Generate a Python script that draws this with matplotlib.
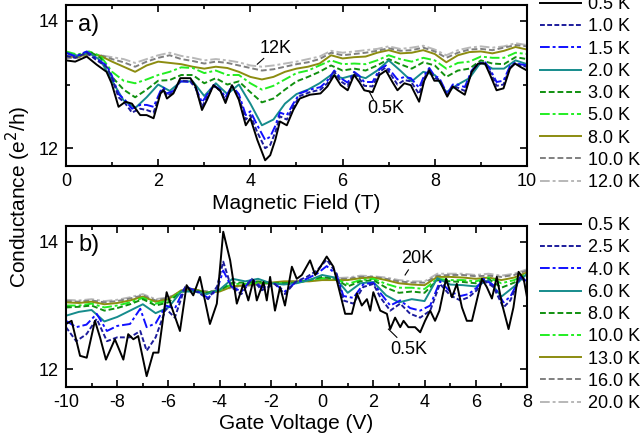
import matplotlib
matplotlib.use('Agg')
import matplotlib.pyplot as plt
from matplotlib.ticker import MultipleLocator

plt.rcParams['font.family'] = ['Liberation Sans', 'DejaVu Sans']
plt.rcParams['axes.unicode_minus'] = False

# ---------------- panel a: conductance vs magnetic field ----------------
labels_a = ['0.5 K', '1.0 K', '1.5 K', '2.0 K', '3.0 K', '5.0 K', '8.0 K', '10.0 K', '12.0 K']

# fine field grid (lowest temperatures)
field_fine = [0.0, 0.2, 0.45, 0.67, 0.88, 0.99, 1.14, 1.29, 1.43, 1.61, 1.75, 1.9, 2.05, 2.12, 2.19,
              2.33, 2.48, 2.7, 2.81, 2.95, 3.06, 3.2, 3.35, 3.46, 3.6, 3.75, 3.9, 4.0, 4.15, 4.32,
              4.43, 4.54, 4.64, 4.79, 4.93, 5.07, 5.29, 5.52, 5.67, 5.82, 5.96, 6.11, 6.25, 6.36,
              6.47, 6.65, 6.8, 6.94, 7.08, 7.19, 7.34, 7.48, 7.66, 7.77, 7.88, 7.99, 8.1, 8.27,
              8.39, 8.5, 8.65, 8.8, 8.94, 9.09, 9.2, 9.34, 9.49, 9.63, 9.74, 9.85, 10.0]
g_a_05 = [13.38, 13.36, 13.44, 13.31, 13.2, 13.02, 12.65, 12.73, 12.7, 12.52, 12.52, 12.47, 12.86, 12.91, 12.78,
          12.86, 13.1, 13.1, 12.97, 12.6, 12.76, 12.99, 12.9, 12.71, 12.99, 12.76, 12.36, 12.47, 12.13, 11.81,
          11.89, 12.13, 12.42, 12.36, 12.6, 12.78, 12.84, 12.86, 12.97, 13.15, 12.99, 12.91, 13.15, 13.04,
          12.91, 12.88, 13.15, 13.22, 13.04, 12.91, 13.02, 12.99, 12.73, 13.06, 13.22, 13.06, 13.06, 12.81,
          12.97, 12.91, 12.84, 13.2, 13.33, 13.33, 13.15, 12.91, 12.94, 13.25, 13.33, 13.28, 13.22]
g_a_10 = [13.45, 13.42, 13.5, 13.38, 13.28, 13.12, 12.8, 12.7, 12.56, 12.62, 12.6, 12.56, 12.88, 12.93, 12.82,
          12.88, 13.06, 13.05, 12.95, 12.65, 12.8, 12.98, 12.9, 12.75, 12.98, 12.8, 12.45, 12.52, 12.25, 12.0,
          12.05, 12.25, 12.5, 12.45, 12.65, 12.82, 12.88, 12.92, 13.02, 13.2, 13.05, 12.98, 13.18, 13.1,
          12.98, 12.97, 13.2, 13.27, 13.12, 13.0, 13.07, 13.05, 12.85, 13.1, 13.24, 13.1, 13.08, 12.83,
          12.98, 12.95, 12.9, 13.2, 13.33, 13.34, 13.2, 12.98, 13.0, 13.27, 13.33, 13.3, 13.28]
g_a_15 = [13.5, 13.44, 13.52, 13.4, 13.3, 13.15, 12.85, 12.75, 12.62, 12.68, 12.68, 12.65, 12.9, 12.95, 12.86,
          12.9, 13.05, 13.04, 12.96, 12.72, 12.84, 12.99, 12.92, 12.8, 12.98, 12.85, 12.52, 12.58, 12.36, 12.13,
          12.18, 12.35, 12.56, 12.52, 12.7, 12.86, 12.92, 12.96, 13.06, 13.22, 13.1, 13.03, 13.2, 13.14,
          13.04, 13.04, 13.24, 13.3, 13.18, 13.08, 13.12, 13.1, 12.95, 13.14, 13.26, 13.14, 13.1, 12.85,
          13.0, 13.0, 12.96, 13.22, 13.33, 13.35, 13.24, 13.04, 13.06, 13.29, 13.34, 13.32, 13.3]

# coarse field grid (0.25 T steps)
field_coarse = [0.0, 0.25, 0.5, 0.75, 1.0, 1.25, 1.5, 1.75, 2.0, 2.25, 2.5, 2.75, 3.0, 3.25, 3.5, 3.75, 4.0,
                4.25, 4.5, 4.75, 5.0, 5.25, 5.5, 5.75, 6.0, 6.25, 6.5, 6.75, 7.0, 7.25, 7.5, 7.75, 8.0,
                8.25, 8.5, 8.75, 9.0, 9.25, 9.5, 9.75, 10.0]
g_a_20 = [13.5, 13.45, 13.5, 13.38, 13.06, 12.75, 12.63, 12.8, 13.0, 12.9, 13.05, 13.05, 12.82, 13.02, 12.85,
          13.0, 12.7, 12.36, 12.45, 12.7, 12.85, 12.92, 13.02, 13.15, 13.1, 13.15, 13.1, 13.22, 13.38,
          13.22, 13.05, 13.2, 13.15, 12.88, 13.0, 13.1, 13.35, 13.25, 13.25, 13.38, 13.32]
g_a_30 = [13.5, 13.45, 13.52, 13.42, 13.12, 12.92, 12.8, 12.92, 13.06, 13.07, 13.15, 13.15, 13.02, 13.1, 13.0,
          13.05, 12.88, 12.72, 12.78, 12.92, 13.05, 13.12, 13.2, 13.3, 13.22, 13.25, 13.22, 13.3, 13.4,
          13.32, 13.25, 13.35, 13.3, 13.12, 13.22, 13.25, 13.38, 13.33, 13.32, 13.43, 13.4]
g_a_50 = [13.52, 13.47, 13.52, 13.45, 13.2, 13.06, 13.02, 13.08, 13.15, 13.2, 13.27, 13.26, 13.18, 13.22, 13.15,
          13.15, 13.02, 12.92, 12.98, 13.08, 13.18, 13.22, 13.3, 13.38, 13.32, 13.33, 13.32, 13.38, 13.46,
          13.4, 13.36, 13.42, 13.38, 13.25, 13.34, 13.36, 13.44, 13.42, 13.42, 13.5, 13.48]
g_a_80 = [13.45, 13.43, 13.49, 13.45, 13.36, 13.28, 13.2, 13.3, 13.36, 13.34, 13.32, 13.28, 13.25, 13.28, 13.26,
          13.2, 13.12, 13.08, 13.12, 13.2, 13.25, 13.28, 13.33, 13.46, 13.41, 13.43, 13.44, 13.5, 13.54,
          13.49, 13.5, 13.54, 13.48, 13.35, 13.46, 13.51, 13.52, 13.49, 13.53, 13.59, 13.55]
g_a_100 = [13.42, 13.42, 13.47, 13.46, 13.4, 13.35, 13.28, 13.36, 13.42, 13.46, 13.4, 13.37, 13.33, 13.36, 13.34,
           13.3, 13.26, 13.22, 13.24, 13.28, 13.32, 13.35, 13.4, 13.5, 13.46, 13.48, 13.5, 13.53, 13.57,
           13.53, 13.54, 13.58, 13.52, 13.42, 13.5, 13.55, 13.56, 13.54, 13.58, 13.62, 13.6]
g_a_120 = [13.42, 13.44, 13.46, 13.46, 13.43, 13.4, 13.34, 13.4, 13.46, 13.5, 13.45, 13.42, 13.38, 13.4, 13.38,
           13.35, 13.3, 13.28, 13.3, 13.33, 13.36, 13.4, 13.44, 13.53, 13.5, 13.52, 13.54, 13.56, 13.6,
           13.56, 13.58, 13.61, 13.55, 13.46, 13.54, 13.58, 13.6, 13.58, 13.6, 13.65, 13.62]

# ---------------- panel b: conductance vs gate voltage ----------------
labels_b = ['0.5 K', '2.5 K', '4.0 K', '6.0 K', '8.0 K', '10.0 K', '13.0 K', '16.0 K', '20.0 K']

gate_k05 = [-10, -9.78, -9.45, -9.19, -8.87, -8.67, -8.44, -8.09, -7.76, -7.57, -7.37, -7.18, -6.85, -6.59,
            -6.39, -6.07, -5.87, -5.55, -5.29, -5.03, -4.77, -4.38, -4.11, -3.86, -3.59, -3.33, -3.07, -2.88,
            -2.68, -2.55, -2.29, -2.16, -2.03, -1.84, -1.64, -1.45, -1.18, -0.99, -0.79, -0.47, -0.27, -0.08,
            0.18, 0.44, 0.64, 0.9, 1.16, 1.36, 1.55, 1.75, 1.88, 2.0, 2.27, 2.53, 2.66, 2.85, 3.05, 3.18,
            3.37, 3.63, 3.83, 4.02, 4.22, 4.41, 4.58, 4.84, 5.07, 5.26, 5.46, 5.65, 5.85, 6.04, 6.24, 6.43,
            6.63, 6.82, 7.02, 7.28, 7.47, 7.67, 7.87, 8.0]
g_b_05 = [12.71, 12.76, 12.21, 12.18, 12.76, 12.5, 12.15, 12.47, 12.15, 12.55, 12.47, 12.52, 11.89, 12.26,
          12.26, 13.21, 12.97, 12.6, 13.32, 13.16, 13.45, 12.71, 13.03, 14.16, 13.71, 13.03, 13.34, 13.08,
          13.4, 13.08, 13.37, 13.08, 13.45, 12.92, 13.29, 13.0, 13.61, 13.42, 13.48, 13.71, 13.48, 13.6,
          13.77, 13.61, 13.29, 12.87, 12.87, 13.19, 13.0, 13.1, 12.92, 13.21, 12.92, 12.87, 12.63, 12.81,
          12.66, 12.76, 12.66, 12.66, 12.58, 12.76, 12.92, 12.76, 12.92, 13.42, 13.13, 13.34, 12.97, 12.76,
          12.76, 13.08, 13.42, 13.29, 13.11, 13.45, 13.03, 12.63, 12.97, 13.53, 13.42, 13.13]

gate_mid = [-10, -9.6, -9.2, -8.8, -8.4, -8.0, -7.5, -7.1, -6.85, -6.5, -6.1, -5.75, -5.35, -4.85, -4.45,
            -4.1, -3.86, -3.55, -3.15, -2.75, -2.35, -1.85, -1.45, -1.05, -0.6, -0.2, 0.18, 0.57, 0.83,
            1.22, 1.6, 2.0, 2.27, 2.66, 3.05, 3.44, 3.83, 4.22, 4.6, 5.0, 5.4, 5.72, 6.04, 6.3, 6.69,
            7.08, 7.35, 7.74, 8.0]
g_b_25 = [12.66, 12.44, 12.55, 12.79, 12.44, 12.5, 12.5, 12.6, 12.29, 12.5, 12.95, 12.81, 13.29, 13.21, 13.1,
          13.3, 13.69, 13.29, 13.18, 13.42, 13.24, 13.34, 13.18, 13.37, 13.45, 13.55, 13.72, 13.5, 13.08,
          13.03, 13.29, 13.34, 13.13, 12.92, 13.03, 12.87, 12.81, 12.92, 13.34, 13.16, 13.08, 13.13, 13.24,
          13.4, 13.29, 12.97, 13.08, 13.45, 13.34]
g_b_40 = [12.76, 12.66, 12.7, 12.87, 12.6, 12.68, 12.71, 12.95, 12.66, 12.72, 13.0, 12.95, 13.3, 13.22, 13.12,
          13.25, 13.55, 13.3, 13.22, 13.42, 13.28, 13.34, 13.22, 13.36, 13.42, 13.5, 13.62, 13.48, 13.15,
          13.12, 13.33, 13.36, 13.2, 13.0, 13.08, 12.96, 12.92, 13.0, 13.38, 13.22, 13.15, 13.18, 13.28,
          13.42, 13.32, 13.05, 13.14, 13.45, 13.38]

gate_coarse = [-10, -9.5, -9, -8.5, -8, -7.5, -7, -6.5, -6, -5.5, -5, -4.5, -4, -3.5, -3, -2.5, -2, -1.5,
               -1, -0.5, 0, 0.5, 1, 1.5, 2, 2.5, 3, 3.5, 4, 4.5, 5, 5.5, 6, 6.5, 7, 7.5, 8]
g_b_60 = [12.84, 12.9, 12.93, 12.75, 12.82, 12.92, 13.02, 12.88, 12.97, 13.22, 13.22, 13.18, 13.25, 13.42,
          13.38, 13.42, 13.35, 13.33, 13.35, 13.4, 13.48, 13.44, 13.2, 13.35, 13.37, 13.16, 13.05, 13.1,
          13.07, 13.43, 13.33, 13.32, 13.3, 13.4, 13.14, 13.3, 13.5]
g_b_80 = [12.97, 12.98, 13.0, 12.92, 12.96, 13.02, 13.1, 13.0, 13.05, 13.22, 13.24, 13.2, 13.24, 13.36,
          13.36, 13.38, 13.35, 13.35, 13.36, 13.4, 13.45, 13.42, 13.3, 13.38, 13.4, 13.28, 13.2, 13.22,
          13.2, 13.4, 13.38, 13.37, 13.35, 13.42, 13.28, 13.36, 13.48]
g_b_100 = [13.0, 13.0, 13.03, 12.97, 13.0, 13.05, 13.12, 13.03, 13.08, 13.22, 13.24, 13.2, 13.24, 13.34,
           13.34, 13.36, 13.35, 13.35, 13.36, 13.4, 13.43, 13.42, 13.34, 13.4, 13.42, 13.34, 13.28, 13.28,
           13.26, 13.42, 13.4, 13.4, 13.38, 13.44, 13.35, 13.4, 13.5]
g_b_130 = [13.05, 13.04, 13.06, 13.02, 13.04, 13.08, 13.14, 13.06, 13.1, 13.24, 13.26, 13.2, 13.22, 13.3,
           13.32, 13.35, 13.36, 13.38, 13.38, 13.38, 13.4, 13.4, 13.4, 13.43, 13.44, 13.4, 13.35, 13.33,
           13.32, 13.45, 13.45, 13.44, 13.42, 13.44, 13.4, 13.44, 13.52]
g_b_160 = [13.07, 13.06, 13.08, 13.05, 13.07, 13.11, 13.16, 13.08, 13.12, 13.22, 13.25, 13.22, 13.24, 13.3,
           13.32, 13.34, 13.35, 13.37, 13.38, 13.39, 13.41, 13.42, 13.42, 13.45, 13.45, 13.42, 13.38, 13.36,
           13.36, 13.47, 13.48, 13.48, 13.46, 13.47, 13.45, 13.48, 13.55]
g_b_200 = [13.09, 13.08, 13.1, 13.07, 13.09, 13.13, 13.18, 13.1, 13.13, 13.22, 13.24, 13.22, 13.24, 13.28,
           13.3, 13.33, 13.35, 13.37, 13.38, 13.39, 13.42, 13.43, 13.44, 13.47, 13.46, 13.44, 13.4, 13.38,
           13.38, 13.5, 13.5, 13.5, 13.48, 13.5, 13.47, 13.5, 13.57]

# line styles shared by both panels (lowest to highest temperature)
colors = ['black', '#1c1c9c', '#1010ff', '#168c8c', '#10900f', '#22ee22', '#8c8c10', '#808080', '#b8b8b8']
styles = ['-', (0, (2.5, 1.2)), (0, (5, 1.5, 1.5, 1.5)), '-', (0, (3, 1.5)), (0, (5, 1.5, 1.5, 1.5)),
          '-', (0, (3, 1.5)), (0, (5, 1.5, 1.5, 1.5))]


def style_axes(ax, xmin, xmax, major, minor):
    ax.set_xlim(xmin, xmax)
    ax.set_ylim(11.72, 14.25)
    ax.xaxis.set_major_locator(MultipleLocator(major))
    ax.xaxis.set_minor_locator(MultipleLocator(minor))
    ax.yaxis.set_major_locator(MultipleLocator(2))
    ax.yaxis.set_minor_locator(MultipleLocator(1))
    ax.tick_params(which='both', direction='in', top=True, right=True, labelsize=13, pad=5)
    ax.tick_params(which='major', length=5, width=1.2)
    ax.tick_params(which='minor', length=3, width=1.2)
    for s in ax.spines.values():
        s.set_linewidth(1.5)


fig = plt.figure(figsize=(6.43, 4.46), dpi=100)
ax_a = fig.add_axes([0.1026, 0.6278, 0.717, 0.361])
ax_b = fig.add_axes([0.1026, 0.1323, 0.717, 0.361])

series_a = [(field_fine, g_a_05), (field_fine, g_a_10), (field_fine, g_a_15),
            (field_coarse, g_a_20), (field_coarse, g_a_30), (field_coarse, g_a_50),
            (field_coarse, g_a_80), (field_coarse, g_a_100), (field_coarse, g_a_120)]
series_b = [(gate_k05, g_b_05), (gate_mid, g_b_25), (gate_mid, g_b_40),
            (gate_coarse, g_b_60), (gate_coarse, g_b_80), (gate_coarse, g_b_100),
            (gate_coarse, g_b_130), (gate_coarse, g_b_160), (gate_coarse, g_b_200)]

for ax, series, labels in [(ax_a, series_a, labels_a), (ax_b, series_b, labels_b)]:
    # draw hottest first so the cold curves sit on top
    for i in reversed(range(len(series))):
        xs, ys = series[i]
        ax.plot(xs, ys, color=colors[i], linestyle=styles[i], lw=1.4, label=labels[i])
    handles, labs = ax.get_legend_handles_labels()
    ax.legend(handles[::-1], labs[::-1], loc='upper left', bbox_to_anchor=(1.028, 1.055),
              frameon=False, fontsize=13, handlelength=2.3, handletextpad=0.35,
              labelspacing=0.29, borderpad=0, borderaxespad=0)

style_axes(ax_a, 0, 10, 2, 1)
style_axes(ax_b, -10, 8, 2, 1)

ax_a.set_xlabel('Magnetic Field (T)', fontsize=15, labelpad=3)
ax_b.set_xlabel('Gate Voltage (V)', fontsize=15, labelpad=2)
fig.text(0.028, 0.56, 'Conductance (e$^2$/h)', rotation=90, fontsize=15, ha='center', va='center')

ax_a.text(0.5, 13.94, 'a)', fontsize=17, ha='center', va='center')
ax_b.text(-9.1, 13.95, 'b)', fontsize=17, ha='center', va='center')

ax_a.text(4.54, 13.56, '12K', fontsize=13, ha='center', va='center')
ax_a.plot([4.29, 4.15], [13.41, 13.32], color='black', lw=0.8)
ax_a.text(6.93, 12.63, '0.5K', fontsize=13, ha='center', va='center')
ax_a.plot([6.67, 6.57], [12.76, 12.9], color='black', lw=0.8)

ax_b.text(3.7, 13.74, '20K', fontsize=13, ha='center', va='center')
ax_b.plot([3.37, 3.24], [13.56, 13.48], color='black', lw=0.8)
ax_b.text(3.37, 12.31, '0.5K', fontsize=13, ha='center', va='center')
ax_b.plot([2.92, 2.59], [12.5, 12.63], color='black', lw=0.8)

fig.savefig('out.png', dpi=100)
